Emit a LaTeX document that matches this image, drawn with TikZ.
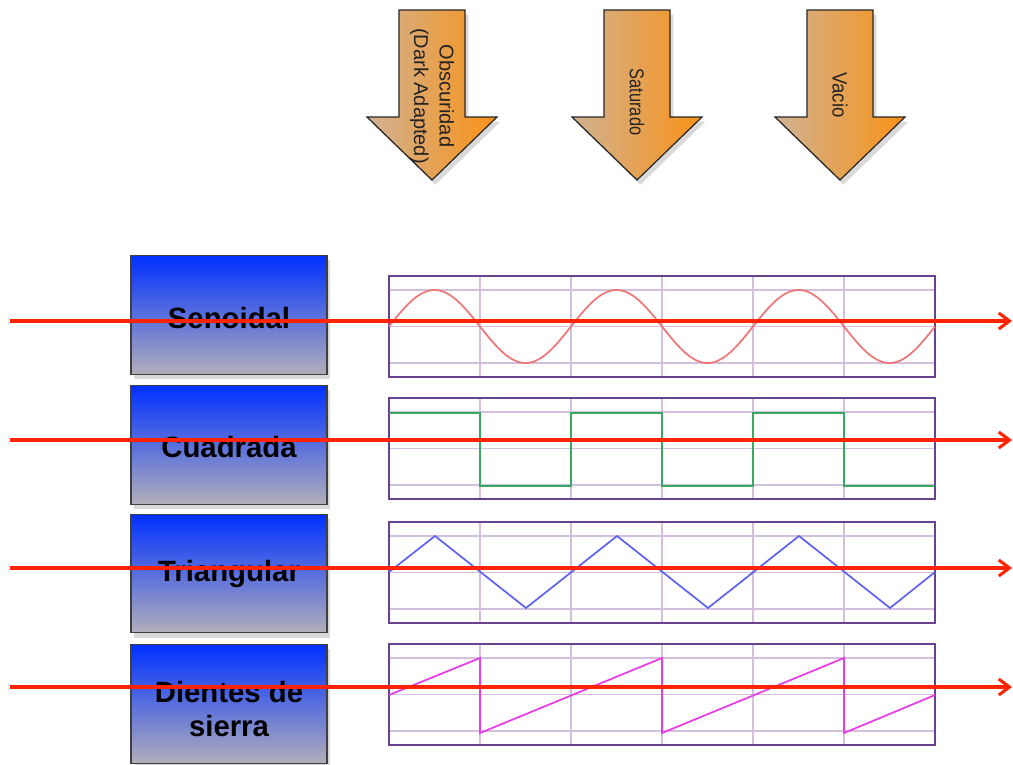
\documentclass[tikz,border=0pt]{standalone}
\usepackage{fontspec}
\setmainfont{Liberation Sans}
\usetikzlibrary{shadows,arrows.meta}
\definecolor{tanL}{RGB}{208,178,148}
\definecolor{orangeR}{RGB}{250,146,22}
\definecolor{boxTop}{RGB}{0,48,255}
\definecolor{boxBot}{RGB}{178,174,186}
\definecolor{frameC}{RGB}{105,65,145}
\definecolor{gridC}{RGB}{210,192,222}
\definecolor{sineC}{RGB}{238,118,118}
\definecolor{squareC}{RGB}{55,170,95}
\definecolor{triC}{RGB}{95,100,240}
\definecolor{sawC}{RGB}{232,60,232}
\definecolor{redC}{RGB}{255,35,0}
\definecolor{txtC}{RGB}{35,35,35}
\begin{document}
\begin{tikzpicture}[x=0.75pt,y=-0.75pt,
  downarrow/.style={draw=black!85,line width=0.9pt,line join=miter,left color=tanL,right color=orangeR,
    drop shadow={opacity=0.3,shadow xshift=2.5pt,shadow yshift=-3.5pt}},
  arrowtext/.style={rotate=-90,text=txtC,align=center,inner sep=0pt},
  bluebox/.style={draw=black!75,line width=0.8pt,top color=boxTop,bottom color=boxBot,
    minimum width=147pt,minimum height=89pt,inner sep=0pt,
    drop shadow={opacity=0.3,shadow xshift=2pt,shadow yshift=-3.5pt}},
  boxtext/.style={font=\fontsize{22}{26}\selectfont\bfseries,text=black,align=center,inner sep=0pt},
  plotframe/.style={draw=frameC,line width=1.5pt,minimum width=409.5pt,minimum height=75.75pt,inner sep=0pt},
  gridline/.style={draw=gridC,line width=1.1pt},
  wave/.style={line width=1.3pt,line join=miter},
  redarrow/.style={draw=redC,line width=2.3pt,-{Straight Barb[length=8pt,width=12pt,line width=2.3pt]}}
]
\useasboundingbox (0,0) rectangle (1013,764);

% down arrows
\foreach \c/\n in {432/a1,637/a2,840/a3}{
  \path[downarrow] (\c-33,10) -- (\c+33,10) -- (\c+33,117) -- (\c+65,117) -- (\c,180)
     -- (\c-65,117) -- (\c-33,117) -- cycle;
}
\node[arrowtext,font=\fontsize{15}{19}\selectfont] (t1) at (432,96) {Obscuridad\\(Dark Adapted)};
\node[arrowtext,font=\fontsize{15}{18}\selectfont] (t2) at (637,102) {\scalebox{0.82}[1]{Saturado}};
\node[arrowtext,font=\fontsize{15.5}{18}\selectfont] (t3) at (840,95) {\scalebox{0.9}[1]{Vacio}};

% blue boxes
\node[bluebox] (b1) at (229,315) {};
\node[bluebox] (b2) at (229,445) {};
\node[bluebox] (b3) at (229,573.5) {};
\node[bluebox] (b4) at (229,704) {};
\node[boxtext] (l1) at (229,318) {Senoidal};
\node[boxtext] (l2) at (229,447) {Cuadrada};
\node[boxtext] (l3) at (229,574) {Triangular};
\node[boxtext] (l4) at (229,709) {Dientes de\\sierra};

% plot frames and grids
\foreach \T/\n in {276/p1,398/p2,522/p3,644/p4}{
  \fill[white] (389,\T) rectangle (935,\T+101);
  \foreach \k in {1,...,5}{\draw[gridline] (389+91*\k,\T) -- (389+91*\k,\T+101);}
  \foreach \o in {14,50.5,87}{\draw[gridline] (389,\T+\o) -- (935,\T+\o);}
  \node[plotframe] (\n) at (662,\T+50.5) {};
}

% waves
\draw[wave,sineC] plot[domain=0:546,samples=220,smooth] ({389+\x},{326.5-36.5*sin(\x*1.978022)});
\draw[wave,squareC] (389,413) -- (480,413) -- (480,486) -- (571,486) -- (571,413) -- (662,413)
  -- (662,486) -- (753,486) -- (753,413) -- (844,413) -- (844,486) -- (935,486);
\draw[wave,triC] (389,572) -- (435,536) -- (526,608) -- (617,536) -- (708,608) -- (799,536)
  -- (890,608) -- (935,572);
\draw[wave,sawC] (389,695) -- (480,658) -- (480,733) -- (662,658) -- (662,733) -- (844,658)
  -- (844,733) -- (935,695);

% red arrows
\coordinate (s1) at (10,321);   \coordinate (e1) at (1012,321);
\coordinate (s2) at (10,440);   \coordinate (e2) at (1012,440);
\coordinate (s3) at (10,568);   \coordinate (e3) at (1012,568);
\coordinate (s4) at (10,687);   \coordinate (e4) at (1012,687);
\draw[redarrow] (s1) -- (e1);
\draw[redarrow] (s2) -- (e2);
\draw[redarrow] (s3) -- (e3);
\draw[redarrow] (s4) -- (e4);
\end{tikzpicture}
\end{document}
